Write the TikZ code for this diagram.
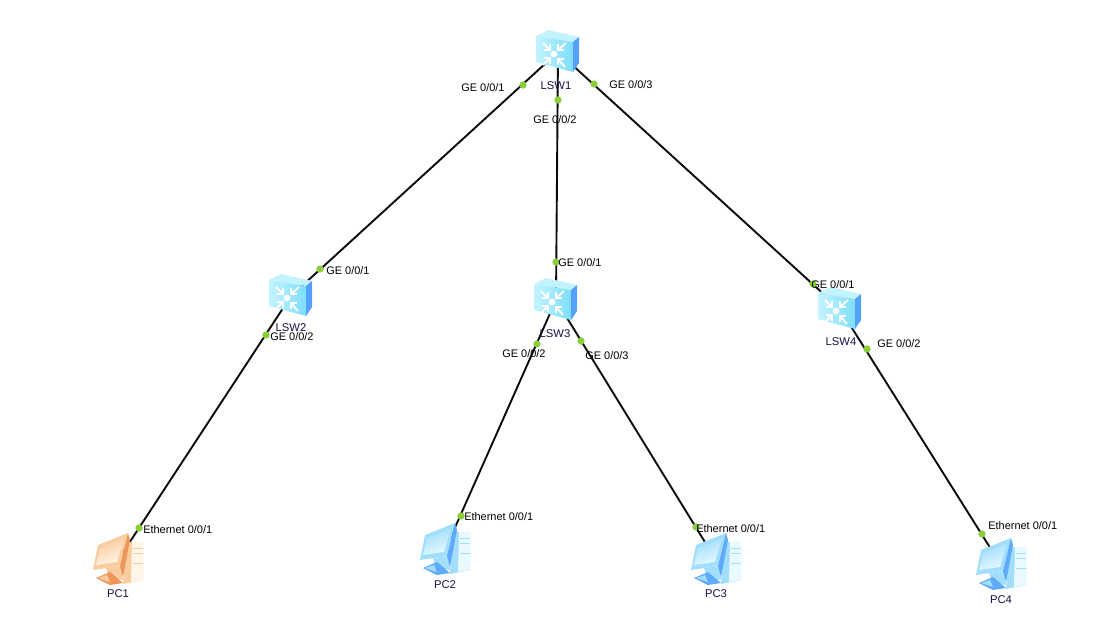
\documentclass[tikz,border=0pt]{standalone}
\usepackage{fontspec}
\setmainfont{Liberation Sans}
\usepackage{xcolor}
\definecolor{linkblack}{RGB}{10, 10, 10}
\definecolor{portgreen}{RGB}{140, 205, 60}
\definecolor{swfront}{RGB}{125, 222, 250}
\definecolor{swtop}{RGB}{195, 243, 255}
\definecolor{swside}{RGB}{85, 160, 250}
\definecolor{namedark}{RGB}{25, 15, 70}
\definecolor{pcblue}{RGB}{95, 170, 250}
\definecolor{pcbluemid}{RGB}{160, 222, 252}
\definecolor{pcbluelight}{RGB}{232, 249, 255}
\definecolor{pcorange}{RGB}{238, 150, 90}
\definecolor{pcorangemid}{RGB}{250, 205, 160}
\definecolor{pcorangelight}{RGB}{255, 245, 232}

\begin{document}
\begin{tikzpicture}[
    x=0.025cm, y=-0.025cm,
    link/.style={draw=linkblack, line width=1.35pt},
    port/.style={circle, fill=portgreen, inner sep=0pt, minimum size=5.2pt},
    portlabel/.style={anchor=west, inner sep=0pt, font=\fontsize{7.8pt}{9pt}\selectfont, text=black},
    devname/.style={inner sep=0pt, font=\fontsize{8pt}{10pt}\selectfont, text=namedark},
    swarrow/.style={white, line width=1.3pt},
    pics/switchicon/.style={code={
        \fill[swtop] (-22,-16) -- (-10,-22) -- (21,-15) -- (15,-10) -- cycle;
        \shade[left color=swtop, right color=swfront] (-22,-16) -- (15,-10) -- (15,20) -- (-22,10) -- cycle;
        \fill[swside] (15,-10) -- (21,-15) -- (21,11) -- (15,20) -- cycle;
        \fill[white] (-4,2) circle (3.4);
        \draw[swarrow] (-15,-9) -- (-8,-2);
        \draw[swarrow] (-14,-2) -- (-8,-2) -- (-8,-8);
        \draw[swarrow] (8,-9) -- (0,-2);
        \draw[swarrow] (0,-8) -- (0,-2) -- (6,-2);
        \draw[swarrow] (-15,13) -- (-8,6);
        \draw[swarrow] (-14,6) -- (-8,6) -- (-8,12);
        \draw[swarrow] (7,15) -- (0,7);
        \draw[swarrow] (0,13) -- (0,7) -- (6,7);
    }},
    pics/pcicon/.style n args={3}{code={
        % tower
        \fill[#2] (8,-18) -- (25,-18) -- (25,20) -- (5,24) -- cycle;
        \fill[#3] (14,-18) -- (25,-18) -- (25,20) -- (13,22) -- cycle;
        \draw[#2, line width=0.6pt] (15,-12) -- (25,-12) (15,-7) -- (25,-7) (15,3) -- (25,3);
        % base
        \fill[#2] (-12,8) -- (4,6) -- (5,20) -- (-9,18) -- cycle;
        \fill[#1] (-22,18) -- (-8,12) -- (5,23) -- (-8,25) -- cycle;
        \fill[#2] (-20,18) -- (-11,15) -- (-8,22) -- cycle;
        % monitor
        \fill[#2] (-20,-15) -- (10,-27) -- (2,6) -- (-25,10) -- cycle;
        \shade[top color=#2, bottom color=#3, shading angle=20] (-18,-12) -- (6,-21) -- (-1,2) -- (-22,5) -- cycle;
        \fill[#1] (10,-27) -- (12,-20) -- (5,17) -- (2,6) -- cycle;
    }},
]
\useasboundingbox (0,0) rectangle (1101,641);

% Devices
\coordinate (lsw1) at (558,52);
\coordinate (lsw2) at (291,296);
\coordinate (lsw3) at (556,300);
\coordinate (lsw4) at (840,309);
\coordinate (pc1) at (118,560);
\coordinate (pc2) at (445,550);
\coordinate (pc3) at (716,560);
\coordinate (pc4) at (1001,565);

% Links
\draw[link] (lsw1) -- (lsw2);
\draw[link] (lsw1) -- (lsw3);
\draw[link] (lsw1) -- (lsw4);
\draw[link] (lsw2) -- (pc1);
\draw[link] (lsw3) -- (pc2);
\draw[link] (lsw3) -- (pc3);
\draw[link] (lsw4) -- (pc4);

% Icons
\pic at (lsw1) {switchicon};
\pic at (lsw2) {switchicon};
\pic at (lsw3) {switchicon};
\pic at (lsw4) {switchicon};
\pic at (pc1) {pcicon={pcorange}{pcorangemid}{pcorangelight}};
\pic at (pc2) {pcicon={pcblue}{pcbluemid}{pcbluelight}};
\pic at (pc3) {pcicon={pcblue}{pcbluemid}{pcbluelight}};
\pic at (pc4) {pcicon={pcblue}{pcbluemid}{pcbluelight}};

% Device names
\node[devname] (lsw1name) at (556,86) {LSW1};
\node[devname] (lsw2name) at (291,328) {LSW2};
\node[devname] (lsw3name) at (555,334) {LSW3};
\node[devname] (lsw4name) at (841,342) {LSW4};
\node[devname] (pc1name) at (118,594) {PC1};
\node[devname] (pc2name) at (445,585) {PC2};
\node[devname] (pc3name) at (716,594) {PC3};
\node[devname] (pc4name) at (1001,600) {PC4};

% Ports
\node[port] (p1a) at (523,85) {};
\node[port] (p1b) at (558,100) {};
\node[port] (p1c) at (594,84) {};
\node[port] (p2a) at (320,269) {};
\node[port] (p2b) at (266,335) {};
\node[port] (p3a) at (556,262) {};
\node[port] (p3b) at (537,344) {};
\node[port] (p3c) at (581,341) {};
\node[port] (p4a) at (813,284) {};
\node[port] (p4b) at (867,349) {};
\node[port] (p5a) at (139,528) {};
\node[port] (p6a) at (461,516) {};
\node[port] (p7a) at (696,527) {};
\node[port] (p8a) at (982,534) {};

% Port labels
\node[portlabel] (l1a) at (461,87.5) {GE 0/0/1};
\node[portlabel] (l1b) at (533,120) {GE 0/0/2};
\node[portlabel] (l1c) at (609,85) {GE 0/0/3};
\node[portlabel] (l2a) at (326,271) {GE 0/0/1};
\node[portlabel] (l2b) at (270,336.5) {GE 0/0/2};
\node[portlabel] (l3a) at (558,262.5) {GE 0/0/1};
\node[portlabel] (l3b) at (502,354) {GE 0/0/2};
\node[portlabel] (l3c) at (585,355.5) {GE 0/0/3};
\node[portlabel] (l4a) at (811,285) {GE 0/0/1};
\node[portlabel] (l4b) at (877,344) {GE 0/0/2};
\node[portlabel] (l5a) at (143,530) {Ethernet 0/0/1};
\node[portlabel] (l6a) at (464,517) {Ethernet 0/0/1};
\node[portlabel] (l7a) at (696,529) {Ethernet 0/0/1};
\node[portlabel] (l8a) at (988,526) {Ethernet 0/0/1};

\end{tikzpicture}
\end{document}
